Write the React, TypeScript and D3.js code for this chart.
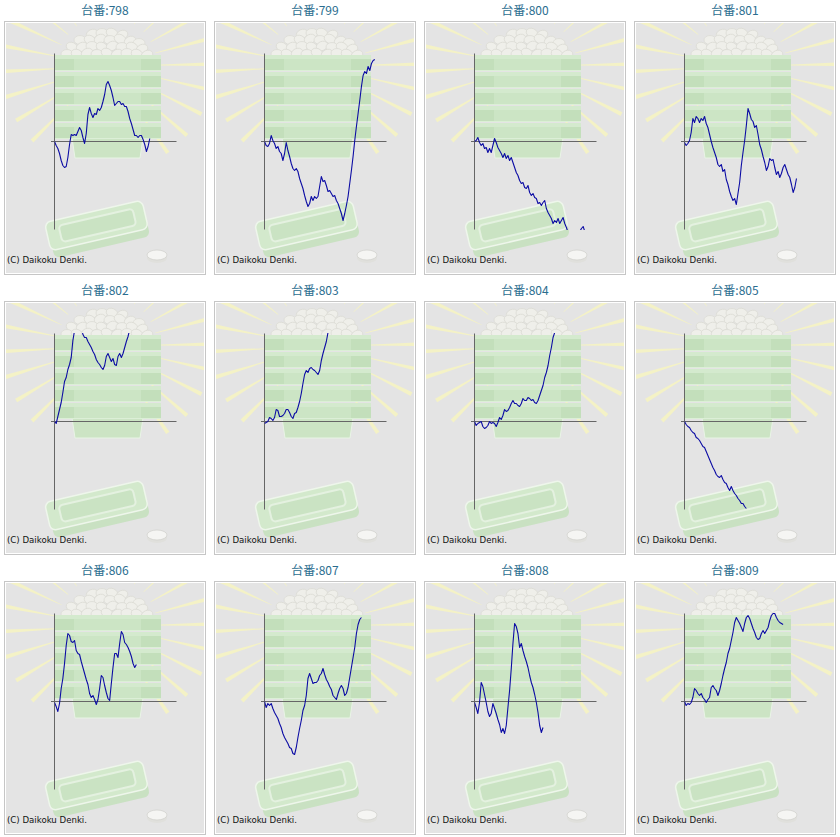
import React from 'react';
import * as d3 from 'd3';

// machine numbers (one small chart per machine)
const UNITS = [798, 799, 800, 801, 802, 803, 804, 805, 806, 807, 808, 809];

// running balance per machine (one value per step)
const unit798 = [0, -4, -7, -12, -19, -24, -26, -25, -16, -3, 7, 6, 7, 6, 10, 14, 11, 4, -2, 8, 27, 34, 28, 24, 28, 27, 33, 31, 34, 40, 47, 57, 60, 56, 51, 44, 36, 38, 40, 40, 37, 38, 35, 35, 30, 23, 18, 12, 6, 6, 4, 6, 6, 2, -3, -10, -5, 3];
const unit799 = [0, -4, -5, -2, 6, 1, -2, -7, -5, -10, -12, -19, -12, -1, -9, -15, -22, -27, -29, -27, -30, -37, -42, -47, -54, -60, -65, -62, -55, -59, -55, -57, -55, -45, -35, -40, -39, -44, -50, -49, -52, -55, -54, -59, -62, -67, -72, -79, -72, -64, -55, -42, -29, -15, 1, 15, 28, 41, 55, 66, 70, 68, 75, 71, 78, 81, 82];
const unit800 = [0, 1, 4, -1, -4, -2, -7, -6, -11, -7, -11, -4, 3, -1, -6, -9, -12, -16, -12, -17, -14, -19, -16, -21, -26, -31, -34, -39, -42, -41, -46, -47, -44, -51, -54, -52, -56, -57, -62, -61, -64, -61, -59, -67, -71, -74, -77, -82, -79, -81, -77, -82, -79, -76, -82, -86, -91, -94, -96, -95, -97, -94, -92, -90, -87, -85, -90];
const unit801 = [-1, -4, -2, 1, 9, 23, 19, 25, 23, 19, 23, 21, 25, 18, 14, 7, 0, -6, -11, -16, -23, -25, -23, -30, -28, -38, -43, -50, -55, -59, -57, -63, -52, -41, -24, -11, 1, 16, 33, 28, 22, 20, 14, 16, 7, -3, -8, -15, -21, -29, -25, -17, -19, -18, -26, -33, -30, -36, -32, -26, -23, -28, -33, -36, -43, -51, -46, -37];
const unit802 = [0, -2, 5, 12, 19, 29, 40, 44, 52, 57, 64, 81, 91, 100, 105, 102, 95, 87, 84, 84, 80, 77, 74, 70, 67, 62, 59, 57, 54, 52, 56, 65, 68, 64, 60, 63, 57, 56, 65, 68, 64, 68, 74, 80, 85, 92];
const unit803 = [-2, -1, 0, 4, 3, 1, 4, 12, 11, 5, 5, 6, 8, 12, 12, 9, 5, 3, 8, 9, 14, 20, 28, 38, 47, 51, 49, 53, 54, 52, 51, 49, 47, 51, 61, 68, 74, 80, 89, 95];
const unit804 = [0, -4, -2, -1, 0, -5, -7, -6, -4, 0, -2, -1, -2, -5, -1, 4, 2, 6, 12, 10, 11, 14, 18, 21, 18, 18, 16, 15, 18, 23, 21, 21, 24, 23, 21, 22, 19, 18, 21, 26, 31, 36, 44, 49, 56, 66, 74, 84, 89];
const unit805 = [0, -3, -5, -6, -9, -11, -12, -16, -17, -19, -22, -25, -26, -30, -34, -38, -42, -46, -49, -53, -55, -56, -54, -58, -61, -62, -66, -69, -65, -69, -72, -74, -77, -79, -82, -82, -85, -87];
const unit806 = [-1, -5, -10, -2, 13, 23, 38, 56, 68, 66, 60, 59, 61, 51, 48, 47, 40, 34, 28, 22, 17, 8, 4, 6, 2, -3, 2, 13, 26, 24, 16, 9, 3, 1, 18, 34, 48, 48, 44, 58, 70, 67, 59, 57, 54, 50, 45, 38, 34, 37];
const unit807 = [0, -6, -2, -4, -2, -7, -11, -14, -17, -22, -26, -32, -36, -39, -42, -46, -47, -52, -53, -46, -36, -27, -19, -9, -4, 6, 23, 28, 23, 18, 19, 19, 21, 26, 28, 33, 27, 22, 19, 15, 12, 6, 4, 2, 8, 13, 16, 13, 6, 8, 14, 24, 34, 44, 54, 68, 77, 82, 84];
const unit808 = [-1, -6, -12, -1, 19, 15, 7, -1, -10, -15, -12, -2, -7, -12, -18, -23, -31, -27, -32, -24, -6, 11, 33, 58, 78, 75, 68, 54, 58, 51, 45, 40, 34, 26, 19, 14, 7, -1, -11, -24, -31, -26];
const unit809 = [0, -4, -2, -3, -1, 4, 13, 11, 8, 6, 8, 4, 2, -1, 2, 4, 14, 16, 13, 11, 6, 11, 18, 26, 33, 39, 48, 53, 61, 69, 79, 84, 81, 78, 74, 70, 78, 84, 86, 83, 78, 73, 69, 64, 62, 63, 68, 71, 68, 71, 74, 81, 86, 88, 88, 84, 81, 79, 78, 77];

const SERIES = [unit798, unit799, unit800, unit801, unit802, unit803, unit804, unit805, unit806, unit807, unit808, unit809];

const CELL_W = 210;
const CELL_H = 280;
const COLS = 4;
const ROWS = 3;

const STEPS = 73;
const Y_MAX = 88;

// plot area inside one cell
const left = 54.5, right = 176.5, top = 53.5, bottom = 229.5;

const x = d3.scaleLinear().domain([0, STEPS]).range([left, right]);
const y = d3.scaleLinear().domain([-Y_MAX, Y_MAX]).range([bottom, top]);

const line = d3.line<number>()
  .x((_, i) => x(i))
  .y(d => y(d));

// decoration: the faint machine picture behind every chart
const RAY_ANGLES = d3.range(135, 416, 14);
const BALLS: [number, number][] = [
  [92, 34], [102, 33], [112, 33], [122, 35],
  [80, 40], [90, 40], [100, 39], [110, 40], [120, 39], [130, 41], [139, 43],
  [72, 47], [82, 47], [92, 46], [102, 47], [112, 46], [122, 47], [132, 47], [142, 49],
  [67, 54], [77, 54], [87, 53], [97, 54], [107, 53], [117, 54], [127, 53], [137, 54], [147, 55],
];
const TIERS = [55, 72, 89, 106, 123];

function Backdrop() {
  const cx = 107, cy = 66;
  const pt = (r: number, a: number) => `${cx + r * Math.cos(a)},${cy + r * Math.sin(a)}`;
  return (
    <g>
      {RAY_ANGLES.map(deg => {
        const a = (deg * Math.PI) / 180;
        const h = (1.0 * Math.PI) / 180;
        return (
          <polygon
            key={deg}
            points={[pt(50, a - h * 0.3), pt(106, a - h * 1.1), pt(106, a + h * 1.1), pt(50, a + h * 0.3)].join(' ')}
            fill="#f4f2c6"
          />
        );
      })}
      {BALLS.map(([bx, by], i) => (
        <ellipse key={i} cx={bx} cy={by} rx={6} ry={4.5}
          transform={`rotate(${(i % 3 - 1) * 25}, ${bx}, ${by})`}
          fill="#efefea" stroke="#dcdcd5" strokeWidth={0.8} />
      ))}
      {/* lower narrow part of the tower */}
      <polygon points="72,138 143,138 140,158 75,158" fill="#cce4c4" stroke="#e9f4e6" strokeWidth={1} />
      {TIERS.map(t => (
        <g key={t}>
          <rect x={55} y={t} width={106} height={16} fill="#c3dfbb" />
          <rect x={55} y={t} width={106} height={4} fill="#d4eace" />
          <rect x={74} y={t + 4} width={67} height={12} fill="#cce5c5" />
          <line x1={55} x2={161} y1={t + 15.5} y2={t + 15.5} stroke="#dcefd7" strokeWidth={1} />
        </g>
      ))}
      {/* tray */}
      <g transform="rotate(-13, 97, 228)">
        <rect x={49} y={220} width={98} height={28} rx={6} fill="#c9e1c2" />
        <rect x={47} y={211} width={100} height={29} rx={6} fill="#d3e9cc" stroke="#eef6eb" strokeWidth={1.5} />
        <rect x={60} y={217} width={76} height={17} rx={4} fill="#cae3c3" stroke="#e4f1e0" strokeWidth={2} />
      </g>
      {/* coin */}
      <ellipse cx={157} cy={258} rx={10} ry={5} fill="#e0e0dc" />
      <ellipse cx={157} cy={255} rx={10} ry={5} fill="#f5f5f3" stroke="#d2d2ce" strokeWidth={0.8} />
    </g>
  );
}

function Panel({ unit, values, col, row }: { unit: number; values: number[]; col: number; row: number }) {
  const clipId = `plot-${unit}`;
  const panelId = `panel-${unit}`;
  return (
    <g transform={`translate(${col * CELL_W}, ${row * CELL_H})`}>
      <text x={105} y={14.5} textAnchor="middle" fontFamily="'Noto Sans CJK JP', sans-serif" fontSize={12} fill="#2a6d8f">
        {`台番:${unit}`}
      </text>
      <defs>
        <clipPath id={panelId}>
          <rect x={4} y={21} width={202} height={254} />
        </clipPath>
        <clipPath id={clipId}>
          <rect x={left} y={top - 0.5} width={right - left + 4} height={bottom - top + 1} />
        </clipPath>
      </defs>
      <rect x={4.5} y={21.5} width={201} height={253} fill="#e4e4e4" />
      <g clipPath={`url(#${panelId})`}>
        <Backdrop />
      </g>
      <rect x={4.5} y={21.5} width={201} height={253} fill="none" stroke="#c6c6c6" />
      <rect x={5.5} y={22.5} width={199} height={251} fill="none" stroke="#ffffff" />
      <line x1={left} x2={left} y1={top} y2={bottom} stroke="#666" />
      <line x1={51} x2={right} y1={y(0)} y2={y(0)} stroke="#666" />
      <path d={line(values) || ''} clipPath={`url(#${clipId})`} fill="none" stroke="#0c0ca4" strokeWidth={1.1} strokeLinejoin="round" />
      <text x={7} y={263} fontFamily="'DejaVu Sans', sans-serif" fontSize={8.6} fill="#111">(C) Daikoku Denki.</text>
    </g>
  );
}

export default function App() {
  return (
    <svg
      width={CELL_W * COLS}
      height={CELL_H * ROWS}
      style={{ position: 'absolute', left: 0, top: 0, display: 'block', background: '#fff' }}
    >
      {UNITS.map((unit, i) => (
        <Panel key={unit} unit={unit} values={SERIES[i]} col={i % COLS} row={Math.floor(i / COLS)} />
      ))}
    </svg>
  );
}
